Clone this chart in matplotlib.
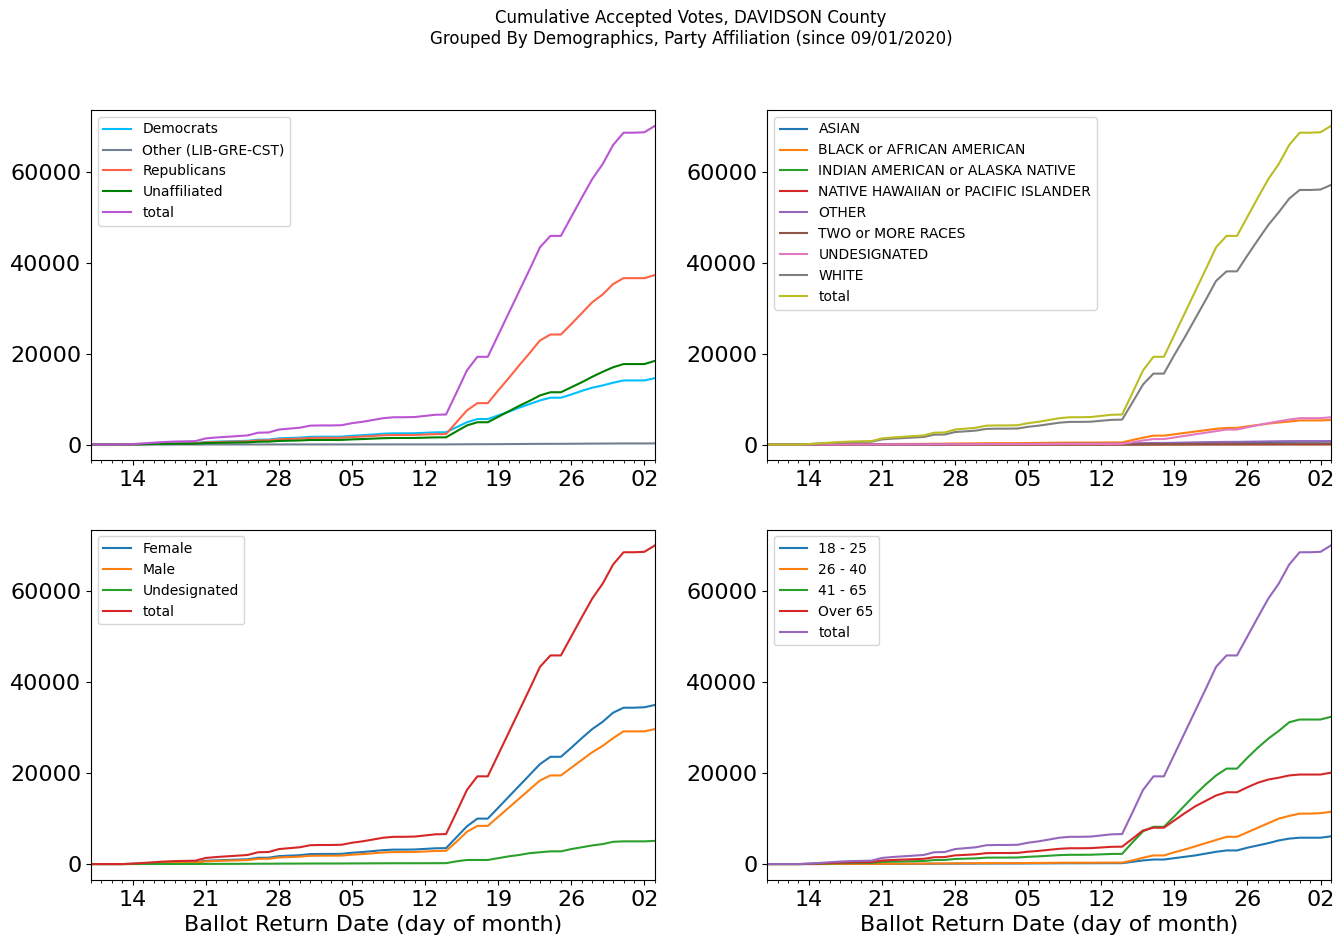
import numpy as np
import matplotlib
matplotlib.use("Agg")
import matplotlib.pyplot as plt
import matplotlib.dates as mdates

# daily dates, 2020-09-10 .. 2020-11-03
dates = np.arange(np.datetime64("2020-09-10"), np.datetime64("2020-11-04"), np.timedelta64(1, "D")).astype("datetime64[D]").astype(object)

total = [0, 0, 0, 0, 100, 250, 400, 550, 650, 700,
         750, 1350, 1550, 1700, 1850, 2000, 2600, 2650, 3300, 3500,
         3700, 4150, 4200, 4200, 4250, 4700, 5000, 5400, 5800, 6000,
         6000, 6050, 6300, 6550, 6600, 11400, 16300, 19300, 19300, 24100,
         28900, 33700, 38500, 43400, 45900, 45900, 50100, 54300, 58400, 61700,
         65900, 68600, 68600, 68700, 70100]

# party affiliation
democrats = [0, 0, 0, 0, 40, 100, 160, 230, 270, 290,
             310, 560, 640, 700, 760, 820, 1070, 1090, 1360, 1440,
             1520, 1700, 1720, 1720, 1740, 1930, 2050, 2210, 2380, 2460,
             2460, 2480, 2580, 2680, 2700, 3800, 4900, 5600, 5600, 6400,
             7200, 8100, 8900, 9700, 10300, 10300, 11000, 11800, 12500, 13000,
             13600, 14100, 14100, 14100, 14600]
other_party = [0, 0, 0, 0, 0, 0, 0, 0, 0, 5,
               5, 10, 10, 10, 10, 10, 15, 15, 15, 20,
               20, 20, 20, 20, 20, 20, 25, 25, 25, 30,
               30, 30, 30, 30, 30, 45, 60, 70, 70, 85,
               100, 115, 130, 145, 155, 155, 170, 185, 200, 210,
               225, 235, 235, 235, 250]
republicans = [0, 0, 0, 0, 35, 90, 140, 190, 230, 245,
               260, 470, 540, 600, 650, 700, 910, 930, 1150, 1220,
               1300, 1450, 1470, 1470, 1490, 1650, 1750, 1890, 2030, 2100,
               2100, 2120, 2200, 2290, 2300, 4900, 7500, 9100, 9100, 11900,
               14600, 17400, 20100, 22900, 24200, 24200, 26500, 28900, 31300, 33000,
               35300, 36600, 36600, 36600, 37300]
unaffiliated = [0, 0, 0, 0, 25, 60, 100, 130, 155, 165,
                180, 320, 370, 410, 440, 480, 620, 640, 790, 840,
                890, 1000, 1010, 1010, 1020, 1130, 1200, 1300, 1390, 1440,
                1440, 1450, 1510, 1570, 1580, 2900, 4200, 4900, 4900, 6100,
                7300, 8500, 9600, 10800, 11500, 11500, 12600, 13700, 14900, 16000,
                17000, 17700, 17700, 17700, 18400]

# race
asian = [0, 0, 0, 0, 2, 4, 6, 8, 10, 11,
         11, 20, 23, 26, 28, 30, 39, 40, 50, 53,
         56, 62, 63, 63, 64, 71, 75, 81, 87, 90,
         90, 91, 95, 98, 99, 140, 180, 210, 210, 250,
         290, 330, 370, 410, 440, 440, 480, 520, 560, 590,
         620, 640, 640, 640, 660]
black = [0, 0, 0, 0, 7, 18, 28, 38, 45, 49,
         52, 95, 108, 119, 130, 140, 182, 185, 230, 245,
         260, 290, 294, 294, 297, 330, 350, 378, 406, 420,
         420, 423, 440, 458, 462, 1000, 1500, 1950, 1950, 2250,
         2550, 2850, 3150, 3450, 3650, 3650, 4000, 4300, 4600, 4850,
         5050, 5300, 5300, 5300, 5400]
indian = [0, 0, 0, 0, 0, 0, 0, 0, 1, 1,
          1, 2, 2, 2, 2, 3, 3, 3, 4, 4,
          4, 5, 5, 5, 5, 5, 6, 6, 6, 7,
          7, 7, 7, 8, 8, 10, 14, 17, 17, 21,
          25, 29, 33, 37, 40, 40, 44, 48, 52, 55,
          58, 60, 60, 60, 62]
hawaiian = [0, 0, 0, 0, 0, 0, 0, 0, 0, 0,
            0, 1, 1, 1, 1, 1, 1, 1, 2, 2,
            2, 2, 2, 2, 2, 2, 3, 3, 3, 3,
            3, 3, 3, 3, 3, 5, 7, 9, 9, 11,
            13, 15, 17, 19, 20, 20, 22, 24, 26, 27,
            28, 29, 29, 29, 30]
other_race = [0, 0, 0, 0, 3, 7, 11, 15, 18, 20,
              21, 38, 43, 48, 52, 56, 73, 74, 92, 98,
              104, 116, 118, 118, 119, 132, 140, 151, 162, 168,
              168, 169, 176, 183, 185, 240, 300, 340, 340, 390,
              430, 470, 510, 550, 580, 580, 620, 650, 680, 700,
              720, 740, 740, 740, 760]
two_more = [0, 0, 0, 0, 1, 2, 3, 4, 5, 5,
            5, 9, 10, 11, 12, 13, 17, 17, 21, 22,
            24, 27, 27, 27, 28, 31, 33, 35, 38, 39,
            39, 39, 41, 43, 43, 60, 80, 95, 95, 105,
            115, 125, 135, 145, 150, 150, 160, 170, 180, 185,
            190, 195, 195, 195, 200]
undesig_race = [0, 0, 0, 0, 2, 5, 8, 11, 13, 14,
                15, 27, 31, 34, 37, 40, 52, 53, 66, 70,
                74, 83, 84, 84, 85, 94, 100, 108, 116, 120,
                120, 121, 126, 131, 132, 500, 900, 1200, 1200, 1550,
                1900, 2250, 2600, 2950, 3300, 3300, 3800, 4250, 4700, 5100,
                5500, 5800, 5800, 5800, 6000]
white = [0, 0, 0, 0, 85, 210, 330, 460, 540, 580,
         620, 1120, 1290, 1410, 1540, 1660, 2160, 2200, 2740, 2900,
         3070, 3440, 3490, 3490, 3530, 3900, 4150, 4480, 4810, 4980,
         4980, 5020, 5230, 5430, 5480, 9300, 13200, 15600, 15600, 19700,
         23600, 27700, 31800, 36000, 38100, 38100, 41600, 45000, 48300, 51100,
         54100, 56000, 56000, 56100, 57100]

# gender
female = [0, 0, 0, 0, 53, 130, 210, 290, 345, 370,
          400, 720, 820, 900, 980, 1060, 1380, 1400, 1750, 1850,
          1960, 2200, 2230, 2230, 2250, 2490, 2650, 2860, 3070, 3180,
          3180, 3210, 3340, 3470, 3500, 5900, 8300, 10000, 10000, 12400,
          14800, 17200, 19600, 22000, 23600, 23600, 25600, 27700, 29700, 31300,
          33300, 34400, 34400, 34500, 35000]
male = [0, 0, 0, 0, 44, 110, 176, 242, 286, 308,
        330, 594, 682, 748, 814, 880, 1144, 1166, 1452, 1540,
        1628, 1826, 1848, 1848, 1870, 2068, 2200, 2376, 2552, 2640,
        2640, 2662, 2772, 2882, 2900, 4900, 7100, 8400, 8400, 10400,
        12400, 14400, 16400, 18400, 19500, 19500, 21200, 22900, 24600, 26000,
        27700, 29200, 29200, 29200, 29700]
undesig_gender = [0, 0, 0, 0, 3, 8, 12, 16, 19, 21,
                  22, 40, 46, 51, 55, 60, 78, 80, 99, 105,
                  111, 125, 126, 126, 128, 141, 150, 162, 174, 180,
                  180, 182, 189, 197, 200, 600, 900, 900, 900, 1300,
                  1700, 2000, 2400, 2600, 2800, 2800, 3300, 3700, 4100, 4400,
                  4900, 5000, 5000, 5000, 5100]

# age
age_18_25 = [0, 0, 0, 0, 3, 8, 12, 17, 20, 21,
             23, 41, 47, 51, 56, 60, 78, 80, 99, 105,
             111, 125, 126, 126, 128, 141, 150, 162, 174, 180,
             180, 182, 189, 197, 200, 500, 800, 1000, 1000, 1300,
             1600, 1900, 2300, 2700, 3000, 3000, 3600, 4100, 4600, 5200,
             5600, 5800, 5800, 5800, 6100]
age_26_40 = [0, 0, 0, 0, 5, 13, 20, 28, 33, 35,
             38, 68, 78, 85, 93, 100, 130, 133, 165, 175,
             185, 208, 210, 210, 213, 235, 250, 270, 290, 300,
             300, 303, 315, 328, 330, 800, 1400, 1900, 1900, 2600,
             3200, 3900, 4600, 5300, 6000, 6000, 7000, 8000, 9000, 10000,
             10600, 11100, 11100, 11200, 11500]
age_41_65 = [0, 0, 0, 0, 34, 85, 136, 187, 221, 238,
             255, 459, 527, 578, 629, 680, 884, 901, 1122, 1190,
             1258, 1411, 1428, 1428, 1445, 1598, 1700, 1836, 1972, 2040,
             2040, 2057, 2142, 2227, 2244, 4800, 7200, 8200, 8200, 10500,
             12900, 15300, 17500, 19500, 21000, 21000, 23400, 25600, 27600, 29300,
             31200, 31800, 31800, 31800, 32400]
age_over_65 = [0, 0, 0, 0, 58, 145, 232, 319, 377, 406,
               435, 783, 899, 986, 1073, 1160, 1508, 1537, 1914, 2030,
               2146, 2407, 2436, 2436, 2465, 2726, 2900, 3132, 3364, 3480,
               3480, 3509, 3654, 3800, 3830, 5600, 7400, 8000, 8000, 9600,
               11200, 12700, 13900, 15100, 15800, 15800, 16900, 17900, 18600, 19000,
               19500, 19700, 19700, 19700, 20100]

party_series = [("Democrats", democrats, "deepskyblue"),
                ("Other (LIB-GRE-CST)", other_party, "slategray"),
                ("Republicans", republicans, "tomato"),
                ("Unaffiliated", unaffiliated, "green"),
                ("total", total, "mediumorchid")]
race_series = [("ASIAN", asian, "C0"),
               ("BLACK or AFRICAN AMERICAN", black, "C1"),
               ("INDIAN AMERICAN or ALASKA NATIVE", indian, "C2"),
               ("NATIVE HAWAIIAN or PACIFIC ISLANDER", hawaiian, "C3"),
               ("OTHER", other_race, "C4"),
               ("TWO or MORE RACES", two_more, "C5"),
               ("UNDESIGNATED", undesig_race, "C6"),
               ("WHITE", white, "C7"),
               ("total", total, "C8")]
gender_series = [("Female", female, "C0"),
                 ("Male", male, "C1"),
                 ("Undesignated", undesig_gender, "C2"),
                 ("total", total, "C3")]
age_series = [("18 - 25", age_18_25, "C0"),
              ("26 - 40", age_26_40, "C1"),
              ("41 - 65", age_41_65, "C2"),
              ("Over 65", age_over_65, "C3"),
              ("total", total, "C4")]

fig, axes = plt.subplots(2, 2, figsize=(13.44, 9.43), dpi=100)
plt.subplots_adjust(left=0.0677, right=0.9903, top=0.8834, bottom=0.0668,
                    wspace=0.199, hspace=0.197)

panels = [party_series, race_series, gender_series, age_series]
for ax, series in zip(axes.flat, panels):
    for label, vals, color in series:
        ax.plot(dates, vals, label=label, color=color, linewidth=1.5)
    ax.set_xlim(dates[0], dates[-1])
    ax.xaxis.set_major_locator(mdates.WeekdayLocator(byweekday=mdates.MO))
    ax.xaxis.set_major_formatter(mdates.DateFormatter("%d"))
    ax.xaxis.set_minor_locator(mdates.DayLocator())
    ax.set_yticks([0, 20000, 40000, 60000])
    ax.tick_params(axis="both", which="major", labelsize=16)
    ax.legend(loc="upper left", fontsize=10)

for ax in axes[1]:
    ax.set_xlabel("Ballot Return Date (day of month)", fontsize=16)

fig.suptitle("Cumulative Accepted Votes, DAVIDSON County\n"
             "Grouped By Demographics, Party Affiliation (since 09/01/2020)",
             fontsize=12, x=0.514, y=0.99)

plt.savefig("out.png")
